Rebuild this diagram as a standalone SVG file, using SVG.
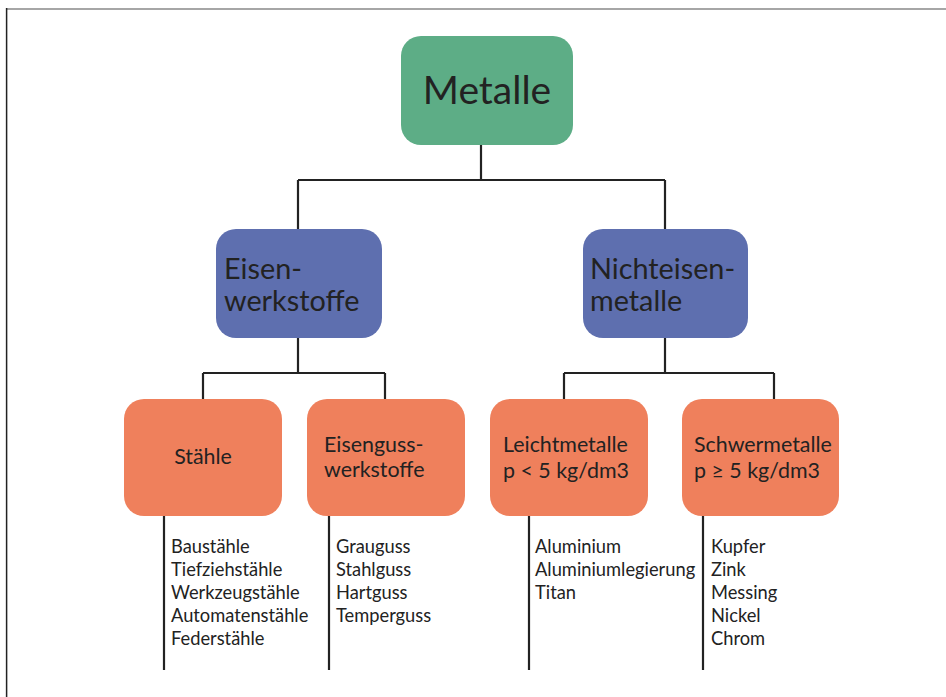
<svg xmlns="http://www.w3.org/2000/svg" width="946" height="697" viewBox="0 0 946 697">
<style>
.t{font-family:Lato,"Noto Sans","Liberation Sans",sans-serif;fill:#222}
.l{stroke:#222;stroke-width:2.2;fill:none}
.g{fill:#5DAD86}
.b{fill:#5E6FAF}
.o{fill:#EF805C}
.m{font-size:21.4px}
.big{font-size:28.8px}
.s{font-size:18.3px}
</style>
<rect x="0" y="0" width="946" height="697" fill="#fff"/>
<line x1="6" y1="9" x2="946" y2="9" stroke="#888" stroke-width="1.5"/>
<line x1="6.6" y1="8" x2="6.6" y2="697" stroke="#222" stroke-width="1.5"/>
<g id="connectors" class="l">
<path d="M481 145V180M298 180H665M298 180V229M665 180V229"/>
<path d="M298 338V373M203 373H385M203 373V399M385 373V399"/>
<path d="M665 338V373M564 373H774M564 373V399M774 373V399"/>
<path d="M164 516V670M329 516V670M529 516V670M703 516V670"/>
</g>
<g id="metalle"><rect class="g" x="401" y="36" width="172" height="109" rx="20"/><text class="t" x="487" y="104" font-size="39" text-anchor="middle">Metalle</text></g>
<g id="eisenwerkstoffe"><rect class="b" x="216" y="229" width="166" height="109" rx="20"/><text class="t big" x="224" y="279">Eisen-</text><text class="t big" x="224" y="311">werkstoffe</text></g>
<g id="nichteisenmetalle"><rect class="b" x="583" y="229" width="165" height="109" rx="20"/><text class="t big" x="590" y="279">Nichteisen-</text><text class="t big" x="590" y="311">metalle</text></g>
<g id="staehle"><rect class="o" x="124" y="399" width="158" height="117" rx="20"/><text class="t m" x="203" y="464" text-anchor="middle">Stähle</text></g>
<g id="eisenguss"><rect class="o" x="307" y="399" width="158" height="117" rx="20"/><text class="t m" x="324" y="452">Eisenguss-</text><text class="t m" x="324" y="477">werkstoffe</text></g>
<g id="leichtmetalle"><rect class="o" x="490" y="399" width="158" height="117" rx="20"/><text class="t m" x="503" y="452">Leichtmetalle</text><text class="t m" x="503" y="478">p &lt; 5 kg/dm3</text></g>
<g id="schwermetalle"><rect class="o" x="682" y="399" width="157" height="117" rx="20"/><text class="t m" x="694" y="452">Schwermetalle</text><text class="t m" x="694" y="478">p ≥ 5 kg/dm3</text></g>
<g id="list-staehle" class="t s"><text x="171" y="553">Baustähle</text><text x="171" y="576">Tiefziehstähle</text><text x="171" y="599">Werkzeugstähle</text><text x="171" y="622">Automatenstähle</text><text x="171" y="645">Federstähle</text></g>
<g id="list-eisenguss" class="t s"><text x="336" y="553">Grauguss</text><text x="336" y="576">Stahlguss</text><text x="336" y="599">Hartguss</text><text x="336" y="622">Temperguss</text></g>
<g id="list-leicht" class="t s"><text x="535" y="553">Aluminium</text><text x="535" y="576">Aluminiumlegierung</text><text x="535" y="599">Titan</text></g>
<g id="list-schwer" class="t s"><text x="711" y="553">Kupfer</text><text x="711" y="576">Zink</text><text x="711" y="599">Messing</text><text x="711" y="622">Nickel</text><text x="711" y="645">Chrom</text></g>
</svg>
